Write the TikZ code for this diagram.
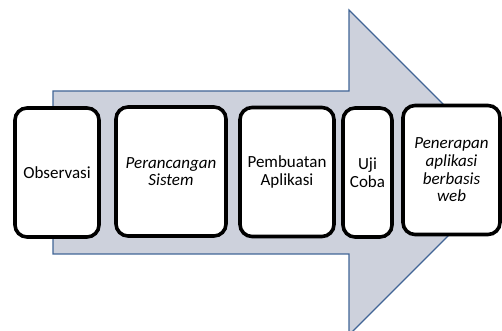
\documentclass[tikz,border=0pt]{standalone}
\usepackage{tikz}
\usetikzlibrary{calc}
\usetikzlibrary{positioning}
\usepackage{fontspec}
\setmainfont{Carlito}
\usepackage{verbatim,color,xcolor}
\definecolor{panah}{RGB}{205,209,220}
\definecolor{garis}{RGB}{65,101,150}
\tikzset{tahap/.style={draw=black,fill=white,line width=3.6pt,rounded corners=12pt,
    minimum height=129pt,inner sep=0pt,align=center,
    font=\fontsize{17}{17.6}\selectfont}}

\begin{document}
\begin{tikzpicture}[x=1pt,y=1pt]
    \useasboundingbox (0,0) rectangle (502,331);
    \clip (0,0) rectangle (502,331);
    \draw[garis,fill=panah,line width=1.2pt]
      (53,240) -- (349,240) -- (349,321) -- (511.5,158.5) -- (349,-4) -- (349,77) -- (53,77) -- cycle;
    \node[tahap,minimum width=84pt] (obs) at (57,158.5) {Observasi};
    \node[tahap,minimum width=110pt] (ranc) at (171,159.5) {\itshape Perancangan\\\itshape Sistem};
    \node[tahap,minimum width=94pt] (buat) at (287,159) {Pembuatan\\Aplikasi};
    \node[tahap,minimum width=49pt] (uji) at (367.5,158.5) {Uji\\Coba};
    \node[tahap,minimum width=97pt] (terap) at (451.5,161) {\itshape Penerapan\\\itshape aplikasi\\\itshape berbasis\\\itshape web};
  \end{tikzpicture}
\end{document}
